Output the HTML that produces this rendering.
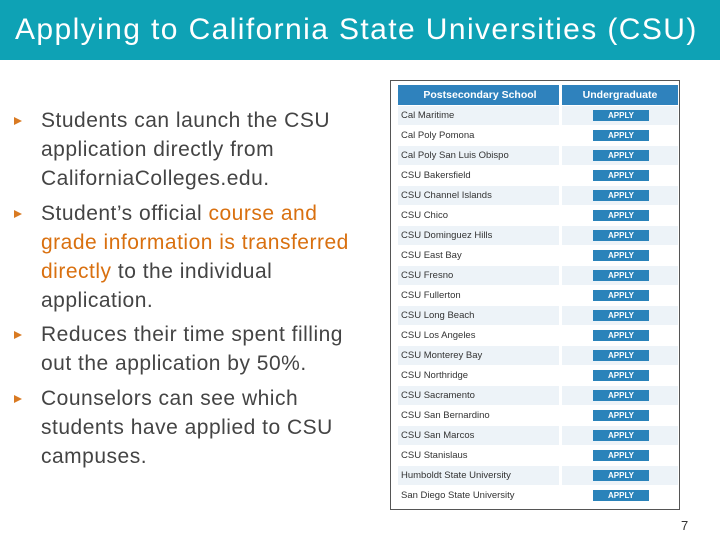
<!DOCTYPE html>
<html><head><meta charset="utf-8"><style>
body{margin:0;width:720px;height:540px;background:#fff;font-family:"Liberation Sans",sans-serif;overflow:hidden;position:relative}
#title{position:absolute;left:0;top:0;width:720px;height:60px;background:#0ea2b5;color:#fff;font-size:30px;line-height:60px;padding-left:15px;box-sizing:border-box;white-space:nowrap;letter-spacing:1.4px}
#bullets{position:absolute;left:41px;top:106px;font-size:21px;line-height:29px;color:#444;margin:0;padding:0;list-style:none;white-space:nowrap;letter-spacing:0.5px}
#bullets li{position:relative;margin-bottom:5.5px}
#bullets li:before{content:"";position:absolute;left:-27px;top:11px;border-left:8px solid #d97a22;border-top:4.5px solid transparent;border-bottom:4.5px solid transparent}
.o{color:#d9700f}
#tbl{position:absolute;left:390px;top:80px;width:290px;height:430px;border:1px solid #555;box-sizing:border-box;background:#fff}
.row{position:absolute;left:7px;width:280px;height:20px;font-size:9.5px;color:#333}
.row .n{position:absolute;left:0;width:161px;height:19px;line-height:19px;padding-left:3px;box-sizing:border-box}
.row .u{position:absolute;left:164px;width:116px;height:19px}
.row.alt .n,.row.alt .u{background:#edf3f8}
.btn{position:absolute;left:31px;top:4px;width:56px;height:11px;background:#2a83ba;color:#fff;font-size:8px;font-weight:bold;text-align:center;line-height:11px}
.hdr .n,.hdr .u{background:#2f82bd;color:#fff;font-weight:bold;text-align:center;font-size:10.5px;height:20px;line-height:20px}
#pg{position:absolute;left:681px;top:518px;font-size:13px;color:#333}
</style></head><body>
<div id="title">Applying to California State Universities (CSU)</div>
<ul id="bullets">
<li>Students can launch the CSU<br>application directly from<br>CaliforniaColleges.edu.</li>
<li>Student’s official <span class="o">course and<br>grade information is transferred<br>directly</span> to the individual<br>application.</li>
<li>Reduces their time spent filling<br>out the application by 50%.</li>
<li>Counselors can see which<br>students have applied to CSU<br>campuses.</li>
</ul>
<div id="tbl">
<div class="row hdr" style="top:4px"><div class="n">Postsecondary School</div><div class="u">Undergraduate</div></div>
</div>
<div id="pg">7</div>
<script>
const schools=["Cal Maritime","Cal Poly Pomona","Cal Poly San Luis Obispo","CSU Bakersfield","CSU Channel Islands","CSU Chico","CSU Dominguez Hills","CSU East Bay","CSU Fresno","CSU Fullerton","CSU Long Beach","CSU Los Angeles","CSU Monterey Bay","CSU Northridge","CSU Sacramento","CSU San Bernardino","CSU San Marcos","CSU Stanislaus","Humboldt State University","San Diego State University"];
const tbl=document.getElementById('tbl');
schools.forEach((s,i)=>{
 const r=document.createElement('div');
 r.className='row'+(i%2==0?' alt':'');
 r.style.top=(25+i*20)+'px';
 
 
 r.innerHTML='<div class="n"></div><div class="u"><div class="btn">APPLY</div></div>';
 r.querySelector('.n').textContent=s;
 const b=r.querySelector('.btn');
 
 
 tbl.appendChild(r);
});
</script>
</body></html>
